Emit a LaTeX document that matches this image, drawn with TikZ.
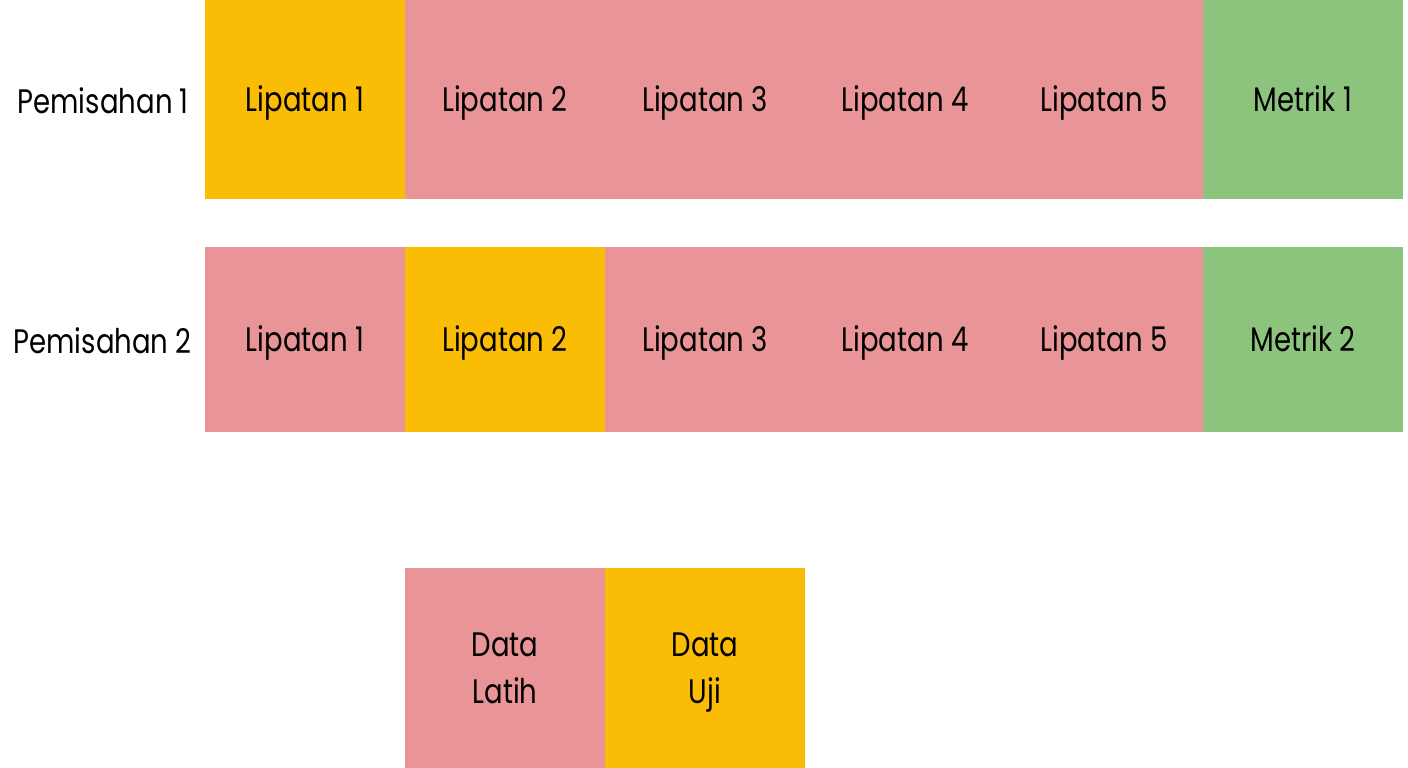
\documentclass[tikz,border=0pt]{standalone}
\usepackage{fontspec}
\setmainfont{Poppins}[FakeStretch=0.81]
\definecolor{pinkc}{HTML}{E99496}
\definecolor{yelc}{HTML}{FBBC05}
\definecolor{grnc}{HTML}{8DC47D}
\tikzset{
  cell/.style={minimum width=200pt, minimum height=#1, inner sep=0pt, outer sep=0pt, anchor=north west,
    font=\fontsize{34}{47}\selectfont, align=center, text height=24pt, text depth=0pt},
  cell/.default=199pt,
  twoline/.style={text height=71pt, text depth=0pt},
  rowlabel/.style={font=\fontsize{34}{47}\selectfont, anchor=base east, inner sep=0pt}
}
\begin{document}
\begin{tikzpicture}[x=1pt,y=-1pt]
\useasboundingbox[fill=white] (0,0) rectangle (1408,768);
% Row 1
\node[rowlabel] (r1) at (189,113) {Pemisahan 1};
\node[cell, fill=yelc] (a1) at (205,0) {Lipatan 1};
\node[cell, fill=pinkc] (a2) at (405,0) {Lipatan 2};
\node[cell, fill=pinkc] (a3) at (605,0) {Lipatan 3};
\node[cell, fill=pinkc] (a4) at (805,0) {Lipatan 4};
\node[cell, fill=pinkc, minimum width=198pt] (a5) at (1005,0) {Lipatan 5};
\node[cell, fill=grnc] (a6) at (1203,0) {Metrik 1};
% Row 2
\node[rowlabel] (r2) at (192,353) {Pemisahan 2};
\node[cell=185pt, fill=pinkc] (b1) at (205,247) {Lipatan 1};
\node[cell=185pt, fill=yelc] (b2) at (405,247) {Lipatan 2};
\node[cell=185pt, fill=pinkc] (b3) at (605,247) {Lipatan 3};
\node[cell=185pt, fill=pinkc] (b4) at (805,247) {Lipatan 4};
\node[cell=185pt, fill=pinkc, minimum width=198pt] (b5) at (1005,247) {Lipatan 5};
\node[cell=185pt, fill=grnc] (b6) at (1203,247) {Metrik 2};
% Legend
\node[cell=200pt, twoline, fill=pinkc] (l1) at (405,568) {Data\\Latih};
\node[cell=200pt, twoline, fill=yelc] (l2) at (605,568) {Data\\Uji};
\end{tikzpicture}
\end{document}
